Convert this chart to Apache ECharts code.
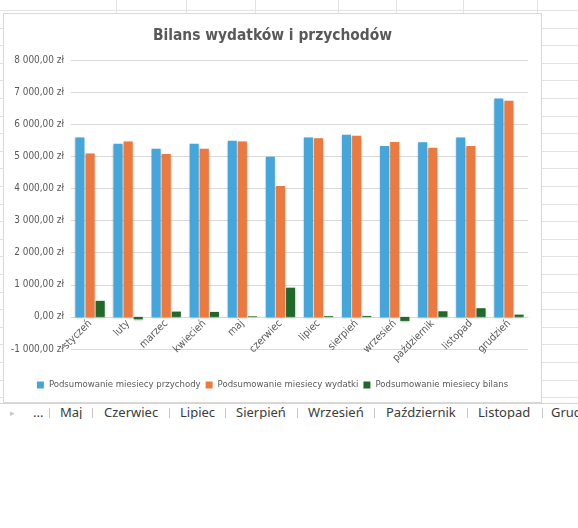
<!DOCTYPE html>
<html>
<head>
<meta charset="utf-8">
<script src="https://cdn.jsdelivr.net/npm/echarts@6/dist/echarts.min.js"></script>
<style>
  html, body { margin: 0; padding: 0; background: #fff; }
  #page { position: relative; width: 578px; height: 528px; overflow: hidden; background: #fff; }
  #sheet { position: absolute; left: 0; top: 0; width: 578px; height: 404px; }
  .hl { position: absolute; left: 0; width: 578px; height: 1px; background: #e3e3e3; }
  .vl { position: absolute; top: 0; width: 1px; height: 404px; background: #e3e3e3; }
  #box { position: absolute; left: 3px; top: 13px; width: 539px; height: 390px; box-sizing: border-box;
         border: 1px solid #d9d9d9; background: #fff; }
  #chart { position: absolute; left: 0; top: 0; width: 537px; height: 388px; }
  #tabs { position: absolute; left: 0; top: 403px; width: 578px; height: 15px; overflow: hidden;
          border-top: 1px solid #d4d4d4; background: #fff;
          font-family: 'Noto Sans', 'Open Sans', sans-serif; font-size: 13px; color: #3b3b3b; }
  #tabs span { position: absolute; top: 0px; line-height: 17px; white-space: nowrap; }
  #tabs i { position: absolute; top: 4px; width: 1px; height: 10px; background: #c6c6c6; }
</style>
</head>
<body>
<div id="page">
  <div id="sheet"></div>
  <div id="box"><div id="chart"></div></div>
  <div id="tabs"></div>
</div>
<script>
var months = ['styczeń', 'luty', 'marzec', 'kwiecień', 'maj', 'czerwiec', 'lipiec',
  'sierpień', 'wrzesień', 'październik', 'listopad', 'grudzień'];
var przychody = [5590, 5390, 5235, 5390, 5485, 4985, 5590, 5670, 5320, 5440, 5590, 6800];
var wydatki = [5090, 5465, 5070, 5235, 5465, 4075, 5565, 5640, 5445, 5265, 5320, 6730];
var bilans = [500, -75, 165, 155, 20, 910, 25, 30, -125, 175, 270, 70];
var seriesNames = ['Podsumowanie miesiecy przychody', 'Podsumowanie miesiecy wydatki',
  'Podsumowanie miesiecy bilans'];
var sheetTabs = ['...', 'Maj', 'Czerwiec', 'Lipiec', 'Sierpień', 'Wrzesień', 'Październik', 'Listopad', 'Grudzień'];
var titleText = 'Bilans wydatków i przychodów';
var yMin = -1000, yMax = 8000, yStep = 1000;

// spreadsheet cells behind the chart
var sheet = document.getElementById('sheet');
for (var y = 10; y < 404; y += 17.6) {
  var h = document.createElement('div');
  h.className = 'hl';
  h.style.top = Math.round(y) + 'px';
  sheet.appendChild(h);
}
[116, 186, 255, 338, 396, 463, 537].forEach(function (x) {
  var v = document.createElement('div');
  v.className = 'vl';
  v.style.left = x + 'px';
  sheet.appendChild(v);
});

// sheet tabs strip
var tabs = document.getElementById('tabs');
var tabX = [33, 60, 104, 180, 236, 308, 386, 478, 551];
var sepX = [49, 92, 169, 225, 297, 374, 467, 542];
var arrow = document.createElement('span');
arrow.textContent = '▸';
arrow.style.left = '10px';
arrow.style.color = '#c8c8c8';
arrow.style.fontSize = '9px';
tabs.appendChild(arrow);
sheetTabs.forEach(function (t, i) {
  var s = document.createElement('span');
  s.textContent = t;
  s.style.left = tabX[i] + 'px';
  tabs.appendChild(s);
});
sepX.forEach(function (x) {
  var s = document.createElement('i');
  s.style.left = x + 'px';
  tabs.appendChild(s);
});

// pick a narrow face if one is installed, then size text to the widths seen in the picture
var ctx = document.createElement('canvas').getContext('2d');
function textWidth(str, css) { ctx.font = css; return ctx.measureText(str).width; }
function installed(name) {
  var probe = 'Podsumowanie 8 000,00';
  return textWidth(probe, '20px "' + name + '", monospace') !== textWidth(probe, '20px monospace') ||
    textWidth(probe, '20px "' + name + '", serif') !== textWidth(probe, '20px serif');
}
var face = ['Liberation Sans Narrow', 'DejaVu Sans Condensed', 'Roboto Condensed', 'Arial Narrow', 'Roboto']
  .filter(installed)[0] || 'sans-serif';
var font = '"' + face + '", sans-serif';
function fitSize(str, weight, target) {
  var w = textWidth(str, weight + ' 20px ' + font);
  return Math.round(20 * target / w * 10) / 10;
}
var legendSize = fitSize(seriesNames[0], 'normal', 152);
var ySize = fitSize('8 000,00 zł', 'normal', 46) * 1.08;
var xSize = fitSize('październik', 'normal', 54);
var titleSize = fitSize(titleText, 'bold', 240);

function zl(v) {
  var s = Math.abs(v).toFixed(0).replace(/\B(?=(\d{3})+(?!\d))/g, ' ');
  return (v < 0 ? '-' : '') + s + ',00 zł';
}

var gridTop = 46, gridBottom = 53, chartH = 388;
// category labels sit under the zero line, as in Excel
var zeroShift = (chartH - gridTop - gridBottom) * (0 - yMin) / (yMax - yMin);

var chart = echarts.init(document.getElementById('chart'));

var barShadow = { shadowColor: 'rgba(0,0,0,0.25)', shadowBlur: 2, shadowOffsetY: 1 };

var option = {
  animation: false,
  color: ['#45a6dc', '#ec7a40', '#20692b'],
  textStyle: { fontFamily: font },
  title: {
    text: titleText,
    left: 'center',
    top: 14,
    padding: 0,
    textStyle: { fontFamily: font, fontSize: titleSize, fontWeight: 'bold', color: '#595959' }
  },
  legend: {
    data: seriesNames,
    left: 'center',
    top: 366,
    padding: 0,
    itemWidth: 7,
    itemHeight: 7,
    itemGap: 5,
    icon: 'rect',
    textStyle: { fontFamily: font, fontSize: legendSize, color: '#595959' }
  },
  grid: { left: 67, right: 13, top: gridTop, bottom: gridBottom },
  xAxis: {
    type: 'category',
    data: months,
    position: 'bottom',
    offset: -zeroShift,
    axisLine: { onZero: false, lineStyle: { color: '#d9d9d9' } },
    axisTick: { show: false },
    axisLabel: { rotate: 45, margin: 5, interval: 0, fontFamily: font, fontSize: xSize, color: '#595959' }
  },
  yAxis: {
    type: 'value',
    min: yMin,
    max: yMax,
    interval: yStep,
    axisLine: { show: false },
    axisTick: { show: false },
    splitLine: { lineStyle: { color: '#d9d9d9' } },
    axisLabel: { formatter: zl, margin: 7, fontFamily: font, fontSize: ySize, color: '#595959' }
  },
  series: [
    { name: seriesNames[0], type: 'bar', data: przychody, barGap: '12%', barCategoryGap: '23%', itemStyle: barShadow },
    { name: seriesNames[1], type: 'bar', data: wydatki, itemStyle: barShadow },
    { name: seriesNames[2], type: 'bar', data: bilans, itemStyle: barShadow }
  ]
};
chart.setOption(option);
</script>
</body>
</html>
